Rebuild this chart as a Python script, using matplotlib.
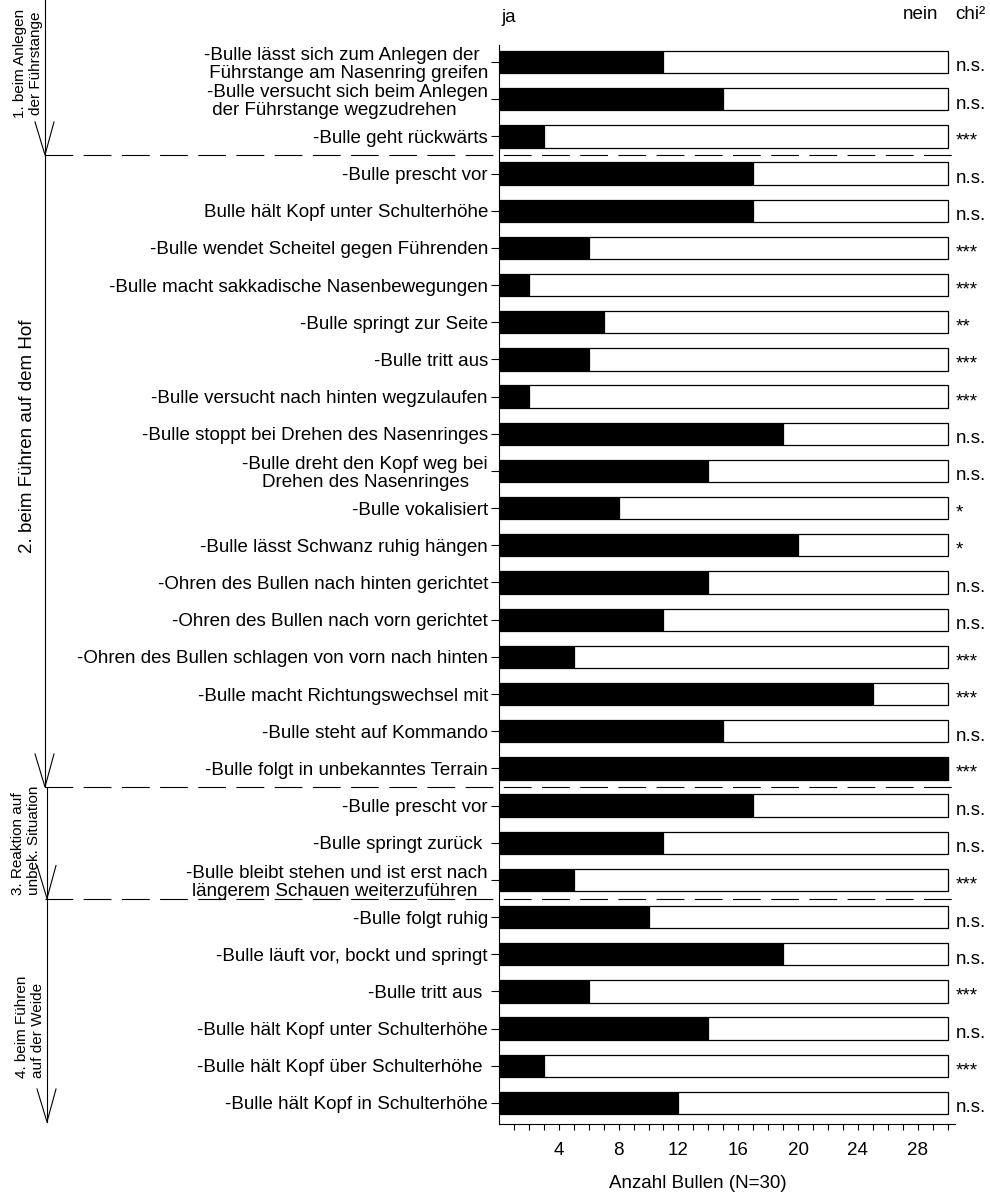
import matplotlib
matplotlib.use('Agg')
import matplotlib.pyplot as plt
import numpy as np
from matplotlib.transforms import blended_transform_factory

plt.rcParams['font.family'] = ['Liberation Sans', 'DejaVu Sans']
plt.rcParams['font.size'] = 13.5
plt.rcParams['lines.scale_dashes'] = False

# --- data ------------------------------------------------------------------
N = 30

labels = [
    "-Bulle lässt sich zum Anlegen der\n Führstange am Nasenring greifen",
    "-Bulle versucht sich beim Anlegen\n der Führstange wegzudrehen",
    "-Bulle geht rückwärts",
    "-Bulle prescht vor",
    "Bulle hält Kopf unter Schulterhöhe",
    "-Bulle wendet Scheitel gegen Führenden",
    "-Bulle macht sakkadische Nasenbewegungen",
    "-Bulle springt zur Seite",
    "-Bulle tritt aus",
    "-Bulle versucht nach hinten wegzulaufen",
    "-Bulle stoppt bei Drehen des Nasenringes",
    "-Bulle dreht den Kopf weg bei\nDrehen des Nasenringes",
    "-Bulle vokalisiert",
    "-Bulle lässt Schwanz ruhig hängen",
    "-Ohren des Bullen nach hinten gerichtet",
    "-Ohren des Bullen nach vorn gerichtet",
    "-Ohren des Bullen schlagen von vorn nach hinten",
    "-Bulle macht Richtungswechsel mit",
    "-Bulle steht auf Kommando",
    "-Bulle folgt in unbekanntes Terrain",
    "-Bulle prescht vor",
    "-Bulle springt zurück ",
    "-Bulle bleibt stehen und ist erst nach\nlängerem Schauen weiterzuführen ",
    "-Bulle folgt ruhig",
    "-Bulle läuft vor, bockt und springt",
    "-Bulle tritt aus ",
    "-Bulle hält Kopf unter Schulterhöhe",
    "-Bulle hält Kopf über Schulterhöhe ",
    "-Bulle hält Kopf in Schulterhöhe",
]
label_align = ['left', 'left'] + ['center'] * 27

ja = [11, 15, 3,
      17, 17, 6, 2, 7, 6, 2, 19, 14, 8, 20, 14, 11, 5, 25, 15, 30,
      17, 11, 5,
      10, 19, 6, 14, 3, 12]

chi = ['n.s.', 'n.s.', '***',
       'n.s.', 'n.s.', '***', '***', '**', '***', '***', 'n.s.', 'n.s.',
       '*', '*', 'n.s.', 'n.s.', '***', '***', 'n.s.', '***',
       'n.s.', 'n.s.', '***',
       'n.s.', 'n.s.', '***', 'n.s.', '***', 'n.s.']

group_names = ["1. beim Anlegen\nder Führstange",
               "2. beim Führen auf dem Hof",
               "3. Reaktion auf\nunbek. Situation",
               "4. beim Führen\nauf der Weide"]
group_sizes = [3, 17, 3, 6]

# --- figure ----------------------------------------------------------------
W, H = 990, 1193
fig = plt.figure(figsize=(W / 100, H / 100), dpi=100)
ax = fig.add_axes([499 / W, 1 - 1124 / H, 456 / W, (1124 - 45) / H])

rows = np.arange(len(labels))
ja = np.array(ja)
nein = N - ja

ax.barh(rows, ja, height=0.6, color='black', edgecolor='black', lw=0.9)
ax.barh(rows, nein, left=ja, height=0.6, color='white',
        edgecolor='black', lw=0.9)

ax.set_xlim(0, 30.5)
ax.set_ylim(28.565, -0.457)

ax.set_yticks(rows)
ax.set_yticklabels(labels)
for t, ma in zip(ax.get_yticklabels(), label_align):
    t.set_multialignment(ma)
    t.set_linespacing(1.1)

ax.set_xticks(np.arange(4, 29, 4))
ax.set_xticks(np.arange(1, 31), minor=True)
ax.tick_params(axis='y', length=6, width=0.8, pad=2)
ax.tick_params(axis='x', which='both', length=4, width=0.8, pad=9)
ax.set_xlabel('Anzahl Bullen (N=30)')
ax.xaxis.set_label_coords(0.436, -0.047)

for s in ['top', 'right']:
    ax.spines[s].set_visible(False)
for s in ['left', 'bottom']:
    ax.spines[s].set_linewidth(0.8)

# significance column and header
for r, c in zip(rows, chi):
    ax.text(30.55, r + 0.08, c, ha='left', va='center_baseline',
            clip_on=False)
ax.text(0.15, -1.2, 'ja', ha='left', va='center', clip_on=False)
ax.text(29.35, -1.28, 'nein', ha='right', va='center', clip_on=False)
ax.text(30.55, -1.28, 'chi²', ha='left', va='center', clip_on=False)

# group separators and arrows at the left
trans = blended_transform_factory(fig.transFigure, ax.transData)
bounds = np.concatenate([[-1.8], np.cumsum(group_sizes) - 0.5])
bounds[-1] = 28.51
px = 1 / W
for b in bounds[1:-1]:
    ax.plot([45 * px, 958 * px], [b, b], color='black', lw=0.8,
            dashes=(20, 7.5), transform=trans, clip_on=False)

arrow_x = [45, 45, 47, 47]
head = 33 / 37.18
for i in range(len(group_sizes)):
    x = arrow_x[i] * px
    y0, y1 = bounds[i], bounds[i + 1]
    ax.plot([x, x], [y0, y1], color='black', lw=0.8,
            transform=trans, clip_on=False)
    ax.plot([x - 10 * px, x, x + 9 * px], [y1 - head, y1, y1 - head],
            color='black', lw=0.8, transform=trans, clip_on=False)

group_x = [28, 28, 26, 30]
group_y = [0.03, 10.06, 20.93, 25.95]
group_fs = [11, 13.5, 11, 11]
group_ma = ['center', 'center', 'left', 'left']
for name, gx, gy, fs, ma in zip(group_names, group_x, group_y, group_fs,
                                group_ma):
    ax.text(gx * px, gy, name, rotation=90, ha='center', va='center',
            fontsize=fs, multialignment=ma, linespacing=1.25,
            transform=trans, clip_on=False)

fig.savefig('out.png', dpi=100)
